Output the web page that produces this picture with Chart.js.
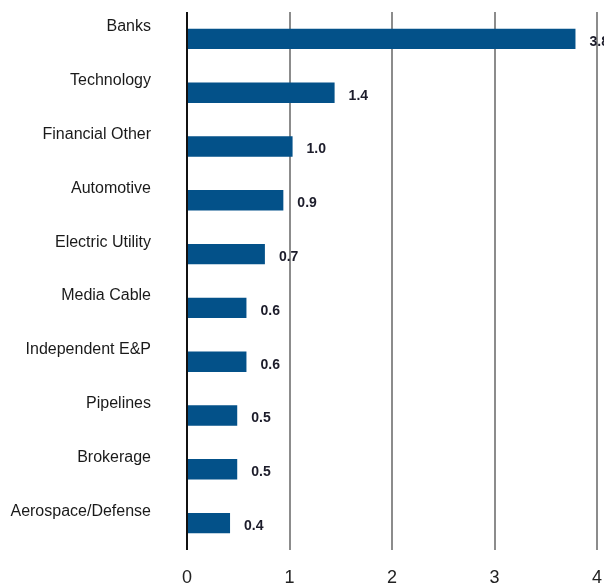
<!DOCTYPE html>
<html>
<head>
    <title>Sectors</title>
    <style>
        html, body {
            margin: 0;
            padding: 0;
            background: #ffffff;
        }
        #chart-container {
            width: 604px;
            height: 588px;
        }
    </style>
    <script src="https://cdn.jsdelivr.net/npm/chart.js"></script>
</head>
<body>
    <div id="chart-container">
        <canvas id="sectorChart"></canvas>
    </div>
    <script>
        const categories = ['Banks', 'Technology', 'Financial Other', 'Automotive', 'Electric Utility',
            'Media Cable', 'Independent E&P', 'Pipelines', 'Brokerage', 'Aerospace/Defense'];
        const values = [3.79, 1.44, 1.03, 0.94, 0.76, 0.58, 0.58, 0.49, 0.49, 0.42];
        const valueLabels = ['3.8', '1.4', '1.0', '0.9', '0.7', '0.6', '0.6', '0.5', '0.5', '0.4'];
        const xTicks = [0, 1, 2, 3, 4];

        // draws the numbers to the right of each bar
        const valueLabelPlugin = {
            id: 'valueLabels',
            afterDatasetsDraw(chart) {
                const ctx = chart.ctx;
                const meta = chart.getDatasetMeta(0);
                ctx.save();
                ctx.font = 'bold 14px "Liberation Sans", Arial, sans-serif';
                ctx.fillStyle = '#1c1c2a';
                ctx.textAlign = 'left';
                ctx.textBaseline = 'middle';
                meta.data.forEach((bar, i) => {
                    ctx.fillText(valueLabels[i], bar.x + 14, bar.y + 3);
                });
                ctx.restore();
            }
        };

        const ctx = document.getElementById('sectorChart').getContext('2d');
        new Chart(ctx, {
            type: 'bar',
            data: {
                // empty second line pushes the name up above the bar
                labels: categories.map(c => [c, '']),
                datasets: [{
                    data: values,
                    backgroundColor: '#035189',
                    borderWidth: 0,
                    barPercentage: 0.38,
                    categoryPercentage: 1.0
                }]
            },
            options: {
                indexAxis: 'y',
                responsive: true,
                maintainAspectRatio: false,
                animation: false,
                layout: {
                    padding: { top: 12, right: 7, left: 0, bottom: 0 }
                },
                plugins: {
                    legend: { display: false },
                    tooltip: { enabled: false }
                },
                scales: {
                    x: {
                        min: 0,
                        max: 4,
                        afterBuildTicks: function(scale) {
                            scale.ticks = xTicks.map(v => ({ value: v }));
                        },
                        afterFit: function(scale) {
                            scale.height = 38;
                            scale.paddingLeft = 0;
                            scale.paddingRight = 0;
                        },
                        grid: {
                            drawTicks: false,
                            lineWidth: 2,
                            color: function(context) {
                                return context.tick && context.tick.value === 0 ? '#111111' : '#8c8c8c';
                            }
                        },
                        border: { display: false },
                        ticks: {
                            padding: 17,
                            color: '#222222',
                            font: { family: '"Liberation Sans", Arial, sans-serif', size: 18 }
                        }
                    },
                    y: {
                        afterFit: function(scale) {
                            scale.width = 187;
                            scale.paddingTop = 0;
                            scale.paddingBottom = 0;
                        },
                        grid: { display: false, drawTicks: false },
                        border: { display: false },
                        ticks: {
                            autoSkip: false,
                            padding: 36,
                            color: '#1a1a1a',
                            font: { family: '"Liberation Sans", Arial, sans-serif', size: 16, lineHeight: '24px' }
                        }
                    }
                }
            },
            plugins: [valueLabelPlugin]
        });
    </script>
</body>
</html>
